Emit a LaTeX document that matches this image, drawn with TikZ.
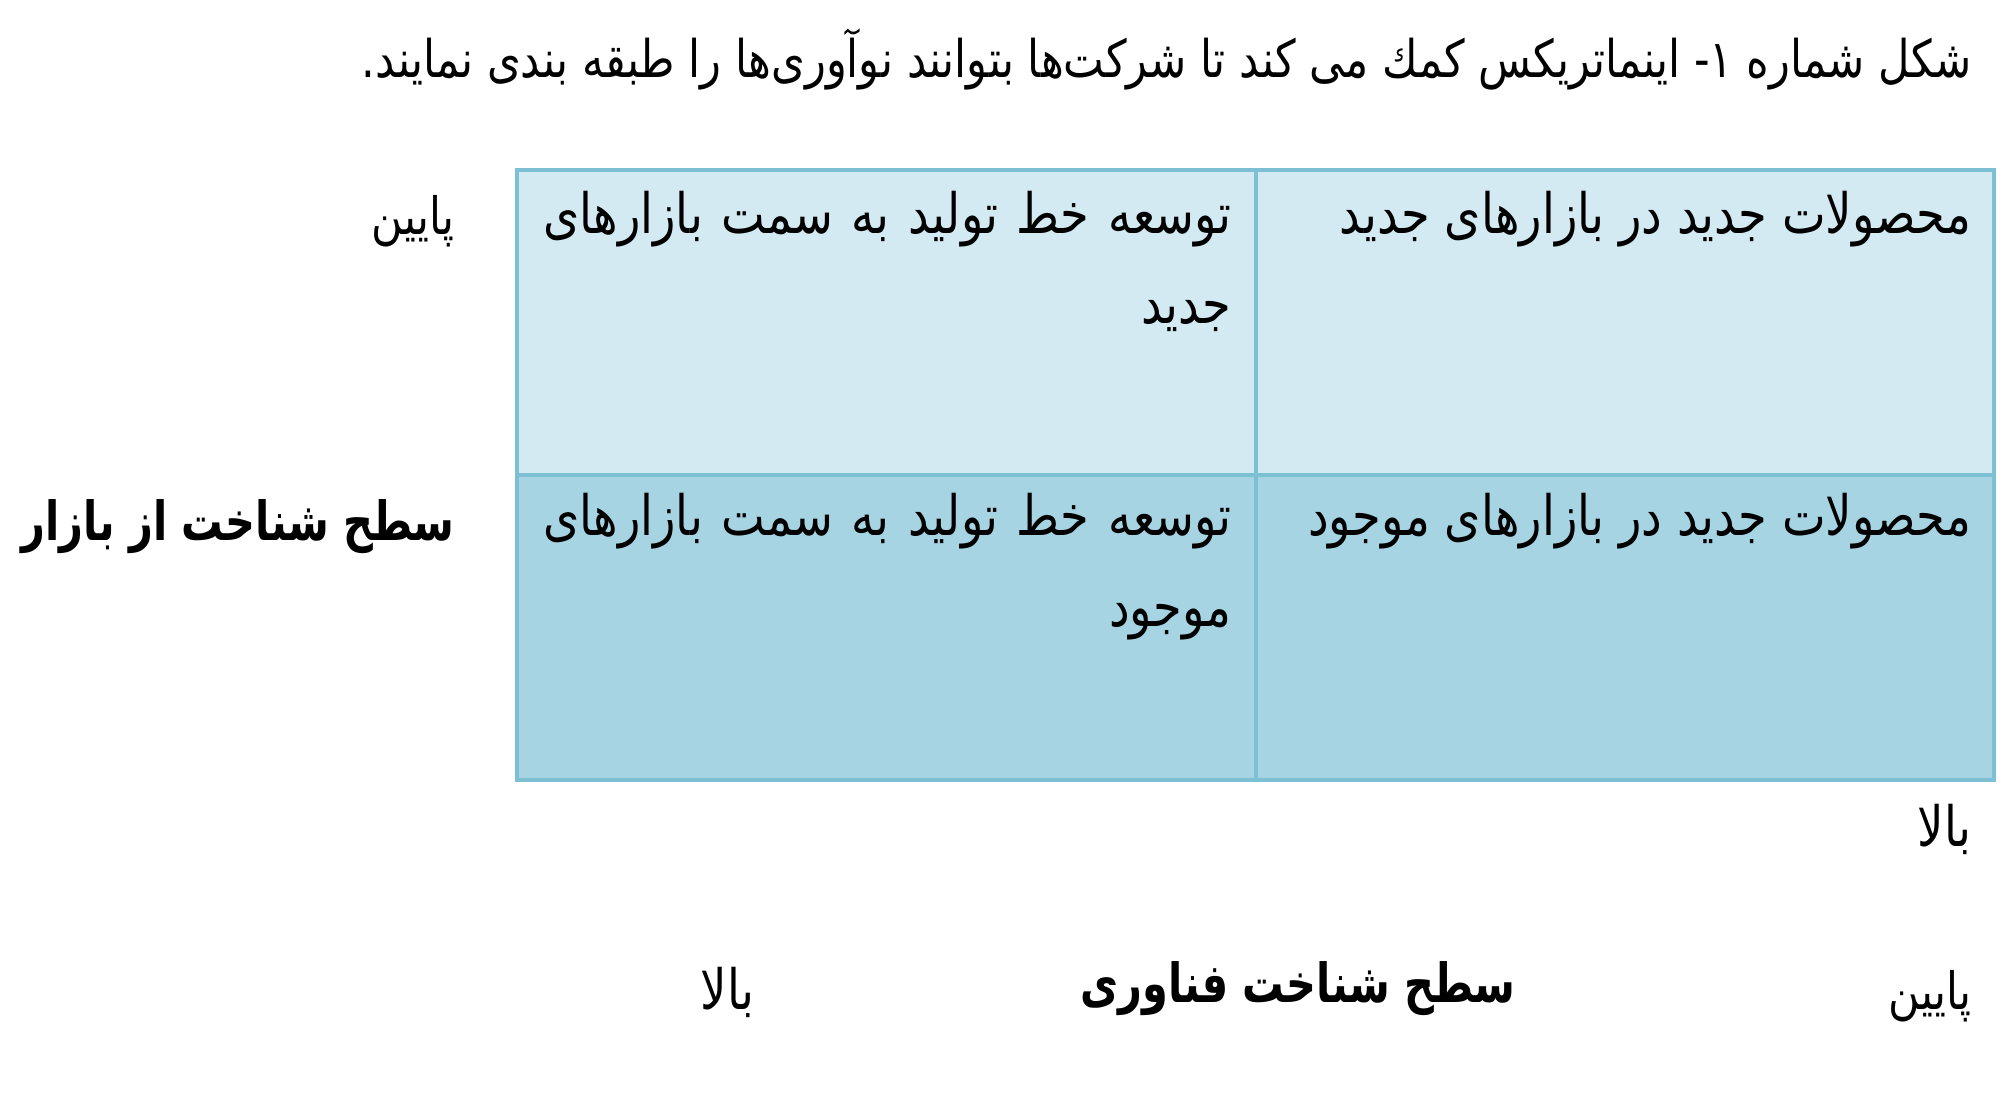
\documentclass[tikz,border=0pt]{standalone}
\usepackage{fontspec}
\usepackage{graphicx}
\TeXXeTstate=1
\newfontfamily\arfont[Script=Arabic]{DejaVu Sans}
\definecolor{topfill}{HTML}{D3EAF2}
\definecolor{botfill}{HTML}{A6D4E2}
\definecolor{gridline}{HTML}{7DBFD3}
\newcommand\tallR[1]{\scalebox{1}[1.2]{\beginR #1\endR}}
\newcommand\tallB[1]{\scalebox{1}[1.3]{\beginR #1\endR}}
\begin{document}
\begin{tikzpicture}[x=0.1mm,y=-0.1mm,
  txt/.style={inner sep=0pt, anchor=east, font=\arfont\fontsize{13.2}{16}\selectfont},
  small/.style={inner sep=0pt, anchor=east, font=\arfont\fontsize{12.2}{15}\selectfont},
  ttl/.style={inner sep=0pt, anchor=east, font=\arfont\fontsize{12.3}{15}\selectfont},
  lbl/.style={inner sep=0pt, anchor=east, font=\arfont\bfseries\fontsize{11.8}{15}\selectfont},
  cell/.style={draw=gridline, line width=0.4mm}]
\useasboundingbox (0,0) rectangle (2012,1103);
\node[ttl] (title) at (1972,59) {\tallR{شکل شماره ۱- اینماتریکس کمك می کند تا شرکت‌ها بتوانند نوآوری‌ها را طبقه بندی نمایند.}};
\path[cell, fill=topfill] (517,170) rectangle (1256,475);
\path[cell, fill=topfill] (1256,170) rectangle (1994,475);
\path[cell, fill=botfill] (517,475) rectangle (1256,780);
\path[cell, fill=botfill] (1256,475) rectangle (1994,780);
\node[txt] (c11) at (1972,219) {\tallR{محصولات جدید در بازارهای جدید}};
\node[txt] (c12) at (1232,219) {\scalebox{1}[1.2]{\hbox to 68.8mm{\beginR توسعه\hfill خط\hfill تولید\hfill به\hfill سمت\hfill بازارهای\endR}}};
\node[txt] (c12b) at (1232,316) {\tallR{جدید}};
\node[txt] (c21) at (1972,521) {\tallR{محصولات جدید در بازارهای موجود}};
\node[txt] (c22) at (1232,521) {\scalebox{1}[1.2]{\hbox to 68.8mm{\beginR توسعه\hfill خط\hfill تولید\hfill به\hfill سمت\hfill بازارهای\endR}}};
\node[txt] (c22b) at (1232,622) {\tallR{موجود}};
\node[small] (ylow) at (455,221) {\tallR{پایین}};
\node[lbl] (ylab) at (455,527) {\tallB{سطح شناخت از بازار}};
\node[txt] (yhigh) at (1972,829) {\tallR{بالا}};
\node[small] (xlow) at (1972,996) {\tallR{پایین}};
\node[lbl] (xlab) at (1516,989) {\tallB{سطح شناخت فناوری}};
\node[txt] (xhigh) at (755,992) {\tallR{بالا}};
\end{tikzpicture}
\end{document}
